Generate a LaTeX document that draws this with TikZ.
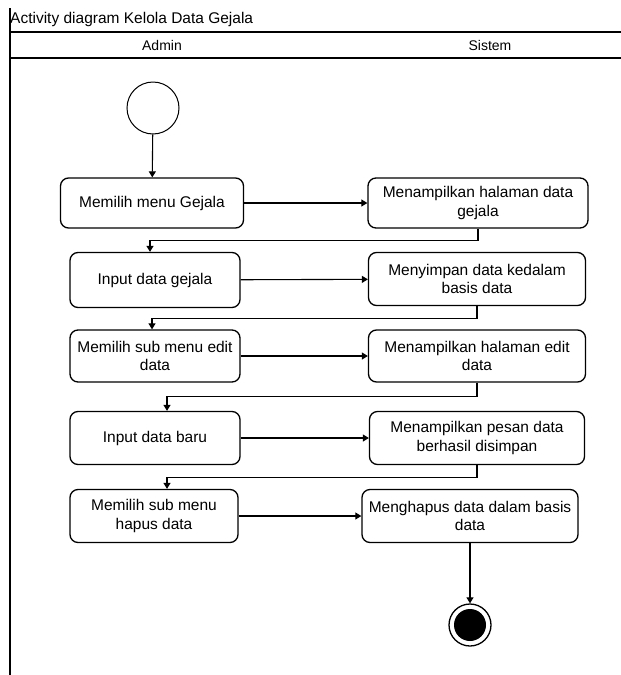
\documentclass[tikz,border=0pt]{standalone}
\usepackage{fontspec}
\setmainfont{Liberation Sans}
\usetikzlibrary{arrows.meta,calc}
\begin{document}
\begin{tikzpicture}[x=1pt,y=-1pt,
  act/.style={draw,rounded corners=8pt,line width=1.3pt,align=center,font=\fontsize{15.5}{18.5}\selectfont,inner sep=2pt},
  flow/.style={line width=1.1pt,-{Triangle[width=7pt,length=6pt]}},
  lane/.style={line width=1.3pt},
  hdr/.style={font=\fontsize{14}{16}\selectfont}]
\useasboundingbox (0,0) rectangle (621,675);
% frame
\draw[lane] (10,8) -- (10,675);
\draw[lane] (10,32) -- (621,32);
\draw[lane] (10,58) -- (621,58);
\node[anchor=west,inner sep=0pt,font=\fontsize{15.5}{17}\selectfont] (title) at (10,19) {Activity diagram Kelola Data Gejala};
\node[hdr] (admin) at (162,45) {Admin};
\node[hdr] (sistem) at (490,45) {Sistem};
% start
\node[draw,circle,minimum size=52pt,line width=1pt,inner sep=0pt] (start) at (153,108) {};
% activities
\node[act,minimum width=183pt,minimum height=50pt] (a1) at (152,203) {Memilih menu Gejala};
\node[act,minimum width=220pt,minimum height=50pt] (s1) at (478,203) {Menampilkan halaman data\\gejala};
\node[act,minimum width=170pt,minimum height=55pt] (a2) at (155,280) {Input data gejala};
\node[act,minimum width=217pt,minimum height=53pt] (s2) at (477,279) {Menyimpan data kedalam\\basis data};
\node[act,minimum width=170pt,minimum height=52pt] (a3) at (155,356) {Memilih sub menu edit\\data};
\node[act,minimum width=217pt,minimum height=52pt] (s3) at (477,356) {Menampilkan halaman edit\\data};
\node[act,minimum width=170pt,minimum height=53pt] (a4) at (155,438) {Input data baru};
\node[act,minimum width=215pt,minimum height=53pt] (s4) at (477,438) {Menampilkan pesan data\\berhasil disimpan};
\node[act,minimum width=168pt,minimum height=53pt] (a5) at (154,516) {Memilih sub menu\\hapus data};
\node[act,minimum width=216pt,minimum height=53pt] (s5) at (470,516) {Menghapus data dalam basis\\data};
% end
\node[draw,circle,minimum size=42pt,line width=1.3pt,inner sep=0pt] (end) at (470,625) {};
\fill (end.center) circle (16pt);
% flows
\draw[flow] (start) -- (a1);
\draw[flow] (a1) -- (s1);
\draw[flow] (s1.south) -- ++(0,12) -| ($(a2.north)+(-5,0)$);
\draw[flow] (a2) -- (s2);
\draw[flow] (s2.south) -- ++(0,12) -| ($(a3.north)+(-3,0)$);
\draw[flow] (a3) -- (s3);
\draw[flow] (s3.south) -- ++(0,14) -| ($(a4.north)+(12,0)$);
\draw[flow] (a4) -- (s4);
\draw[flow] (s4.south) -- ++(0,12) -| ($(a5.north)+(13,0)$);
\draw[flow] (a5) -- (s5);
\draw[flow] (s5) -- (end);
\end{tikzpicture}
\end{document}
